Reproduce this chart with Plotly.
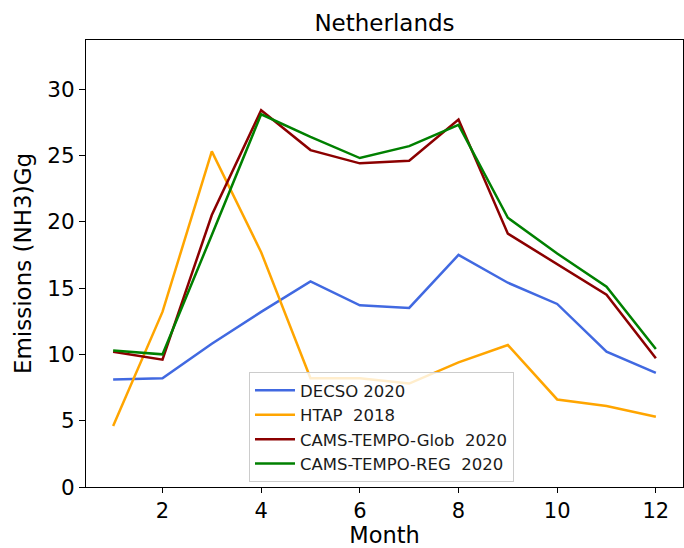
import plotly.graph_objects as go

months = [1, 2, 3, 4, 5, 6, 7, 8, 9, 10, 11, 12]
decso_2020 = [8.1, 8.2, 10.8, 13.2, 15.5, 13.7, 13.5, 17.5, 15.4, 13.8, 10.2, 8.6]
htap_2018 = [4.6, 13.2, 25.3, 17.7, 8.2, 8.2, 7.8, 9.4, 10.7, 6.6, 6.1, 5.3]
cams_glob_2020 = [10.2, 9.6, 20.5, 28.4, 25.4, 24.4, 24.6, 27.7, 19.1, 16.8, 14.5, 9.7]
cams_reg_2020 = [10.3, 10.0, 19.0, 28.1, 26.4, 24.8, 25.7, 27.3, 20.3, 17.6, 15.1, 10.4]

series = [
    ("DECSO 2020", decso_2020, "#4169E1"),
    ("HTAP  2018", htap_2018, "#FFA500"),
    ("CAMS-TEMPO-Glob  2020", cams_glob_2020, "#8B0000"),
    ("CAMS-TEMPO-REG  2020", cams_reg_2020, "#008000"),
]

fig = go.Figure()
for name, vals, color in series:
    fig.add_trace(go.Scatter(x=months, y=vals, mode="lines", name=name,
                             line=dict(color=color, width=2.5)))

font_family = "DejaVu Sans"
fig.update_layout(
    width=684, height=548,
    margin=dict(l=86, r=1, t=40, b=61),
    paper_bgcolor="white", plot_bgcolor="white",
    font=dict(family=font_family, color="black", size=21),
    title=dict(text="Netherlands", x=(86 + 683) / 2 / 684, xanchor="center",
               y=1 - 23 / 548, yanchor="middle", font=dict(size=23)),
    showlegend=True,
    legend=dict(x=(249 - 86) / 597, y=(487 - 372) / 447, xanchor="left", yanchor="top",
                bgcolor="rgba(255,255,255,0.8)", bordercolor="#cccccc", borderwidth=1,
                font=dict(size=16.5, color="#1a1a1a"), tracegroupgap=0, itemwidth=40),
    xaxis=dict(range=[0.45, 12.55], tickvals=[2, 4, 6, 8, 10, 12],
               showgrid=False, zeroline=False, showline=True, mirror=True,
               linecolor="black", linewidth=1.2, ticks="outside", ticklen=5,
               tickcolor="black", tickfont=dict(size=21),
               title=dict(text="Month", font=dict(size=22.5), standoff=9)),
    yaxis=dict(range=[0, 33.7], tickvals=[0, 5, 10, 15, 20, 25, 30],
               showgrid=False, zeroline=False, showline=True, mirror=True,
               linecolor="black", linewidth=1.2, ticks="outside", ticklen=6,
               tickcolor="black", tickfont=dict(size=21.5),
               title=dict(text="Emissions (NH3)Gg", font=dict(size=23), standoff=9)),
)

fig.write_html("out.html", config={"displayModeBar": False},
               post_script="document.body.style.margin='0';")
